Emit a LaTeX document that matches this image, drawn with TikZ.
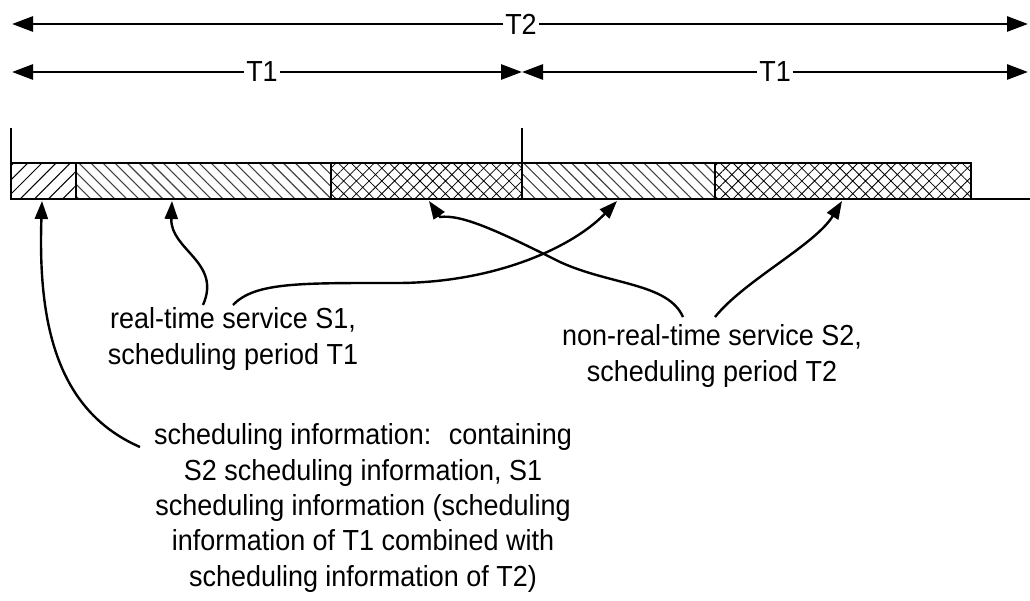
\documentclass[tikz,border=0pt]{standalone}
\usepackage{fontspec}
\setmainfont[FakeStretch=0.93]{Liberation Sans}
\usetikzlibrary{arrows.meta,patterns.meta}
\tikzset{
  lbl/.style={font=\fontsize{29}{35.3}\selectfont, inner sep=2pt},
  dim/.style={line width=2.8pt, -{Triangle[length=21pt,width=15pt]}},
  bar/.style={line width=2.2pt},
  ptr/.style={line width=2.4pt, -{Triangle[length=18pt,width=13pt]}},
  hatchA/.style={pattern={Lines[angle=45,distance=10pt,line width=1pt]}},
  hatchB/.style={pattern={Lines[angle=-45,distance=8.5pt,line width=1.1pt]}, pattern color=black!75},
  cross/.style={pattern={Hatch[angle=45,distance=9pt,line width=0.8pt]}}
}
\begin{document}
\begin{tikzpicture}[x=1pt,y=-1pt]
\useasboundingbox (0,0) rectangle (1030,601);
% dimension arrows
\node[lbl] (T2) at (521,24) {T2};
\coordinate (L2) at (12,24);
\coordinate (R2) at (1028,24);
\draw[dim] (T2.west) -- (L2);
\draw[dim] (T2.east) -- (R2);
\node[lbl] (T1a) at (262,72) {T1};
\node[lbl] (T1b) at (775,72) {T1};
\coordinate (L1) at (12,72);
\coordinate (M1) at (522,72);
\coordinate (R1) at (1028,72);
\draw[dim] (T1a.west) -- (L1);
\draw[dim] (T1a.east) -- (M1);
\draw[dim] (T1b.west) -- (M1);
\draw[dim] (T1b.east) -- (R1);
% bar segments
\draw[bar,hatchA] (11,163) rectangle (76,199);
\draw[bar,hatchB] (76,163) rectangle (331,199);
\draw[bar,cross] (331,163) rectangle (522,199);
\draw[bar,hatchB] (522,163) rectangle (715,199);
\draw[bar,cross] (715,163) rectangle (971,199);
\draw[bar] (11,199) -- (1030,199);
\draw[bar] (11,128) -- (11,199);
\draw[line width=1.6pt] (522,128) -- (522,199);
% labels
\node[lbl, align=center] (rt) at (233,339) {real-time service S1,\\scheduling period T1};
\node[lbl, align=center] (nrt) at (712,356) {non-real-time service S2,\\scheduling period T2};
\node[lbl, align=center] (info) at (363,508) {scheduling information:~ containing\\S2 scheduling information, S1\\scheduling information (scheduling\\information of T1 combined with\\scheduling information of T2)};
% pointer targets and starts
\coordinate (p1) at (42,201);
\coordinate (p2) at (172,201);
\coordinate (p3) at (617,201);
\coordinate (p4) at (429,201);
\coordinate (p5) at (842,201);
\coordinate (q1) at (140,447);
\coordinate (q2) at (203,305);
\coordinate (q3) at (233,305);
\coordinate (q4) at (683,317);
\coordinate (q5) at (715,317);
\draw[ptr] (q1) .. controls (55,410) and (38,320) .. (p1);
\draw[ptr] (q2) .. controls (222,262) and (170,250) .. (p2);
\draw[ptr] (q3) .. controls (255,282) and (300,283) .. (400,283) .. controls (500,282) and (575,245) .. (p3);
\draw[ptr] (q4) .. controls (668,283) and (610,285) .. (560,262) .. controls (500,232) and (462,214) .. (440,217) -- (p4);
\draw[ptr] (q5) .. controls (745,280) and (815,245) .. (p5);
\end{tikzpicture}
\end{document}
